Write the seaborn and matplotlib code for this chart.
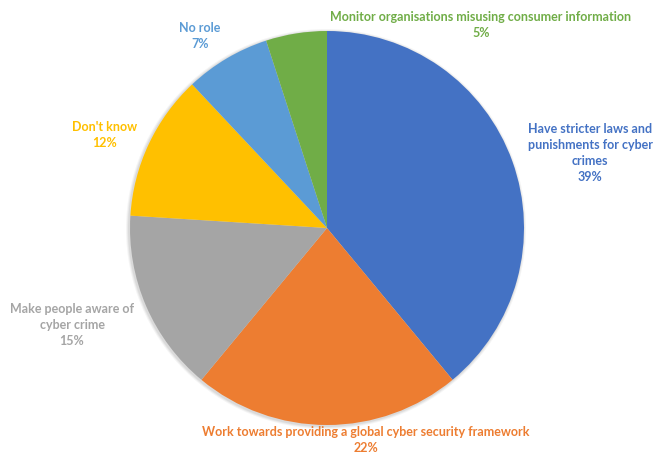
import matplotlib
matplotlib.use("Agg")
import matplotlib.pyplot as plt
import seaborn as sns
from matplotlib.patches import Circle

sns.set_theme(style="white")
plt.rcParams["font.family"] = ["Lato", "DejaVu Sans"]

labels = [
    "Have stricter laws and\npunishments for cyber\ncrimes",
    "Work towards providing a global cyber security framework",
    "Make people aware of\ncyber crime",
    "Don't know",
    "No role",
    "Monitor organisations misusing consumer information",
]
shares = [39, 22, 15, 12, 7, 5]
colors = ["#4472C4", "#ED7D31", "#A5A5A5", "#FFC000", "#5B9BD5", "#70AD47"]
palette = sns.color_palette(colors)

# label anchor points in pixel space (x, y from top)
label_pos = [(590, 153), (366, 440), (72, 325), (105, 135), (200, 36), (481, 25)]

W, H = 654, 453
fig = plt.figure(figsize=(W / 100, H / 100), dpi=100)
ax = fig.add_axes([0, 0, 1, 1])

cx, cy, r = 327, H - 228, 197

# soft shadow around the pie
for i, a in enumerate([0.04, 0.05, 0.06]):
    ax.add_patch(Circle((cx - 1, cy - 1), r + 3 - i, color="black", alpha=a, lw=0, zorder=0))

ax.pie(shares, colors=palette, startangle=90, counterclock=False,
       center=(cx, cy), radius=r, frame=True,
       wedgeprops=dict(linewidth=0))
ax.set_xlim(0, W)
ax.set_ylim(0, H)
ax.set_aspect("equal")
ax.axis("off")

for lab, val, col, (x, y) in zip(labels, shares, palette, label_pos):
    ax.text(x, H - y, f"{lab}\n{val}%", color=col, ha="center", va="center",
            fontsize=9, fontweight="bold", linespacing=1.4)

fig.savefig("out.png", dpi=100)
